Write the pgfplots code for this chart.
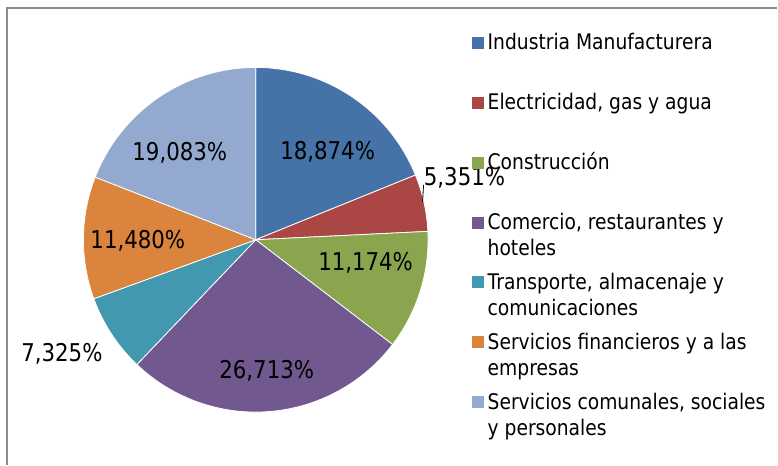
\documentclass[border=0pt]{standalone}
\usepackage{pgfplots}
\pgfplotsset{compat=1.18}
\usepackage{fontspec}
\setmainfont{DejaVu Sans}[FakeStretch=0.87]
\definecolor{cInd}{HTML}{4572A7}
\definecolor{cEle}{HTML}{AA4643}
\definecolor{cCon}{HTML}{89A54E}
\definecolor{cCom}{HTML}{71588F}
\definecolor{cTra}{HTML}{4198AF}
\definecolor{cFin}{HTML}{DB843D}
\definecolor{cSoc}{HTML}{93A9CF}
\definecolor{frame}{HTML}{8C8C8C}
% shares (%), clockwise from 12 o'clock
\def\vA{18.874}
\def\vB{5.351}
\def\vC{11.174}
\def\vD{26.713}
\def\vE{7.325}
\def\vF{11.480}
\def\vG{19.083}
\pgfmathsetmacro\cA{0}
\pgfmathsetmacro\cB{\cA+\vA}
\pgfmathsetmacro\cC{\cB+\vB}
\pgfmathsetmacro\cD{\cC+\vC}
\pgfmathsetmacro\cE{\cD+\vD}
\pgfmathsetmacro\cF{\cE+\vE}
\pgfmathsetmacro\cG{\cF+\vF}
\pgfmathsetmacro\cH{\cG+\vG}
\def\cx{256}
\def\cy{225}
\def\rr{172.5}
\newcommand{\lab}[2]{\parbox[t]{282pt}{\raggedright\fontsize{21.5}{26.5}\selectfont\strut #1\\\strut #2}}
\begin{document}
\begin{tikzpicture}
\begin{axis}[
  hide axis, scale only axis,
  width=778pt, height=465pt,
  xmin=0, xmax=778, ymin=0, ymax=465,
  clip=false,
  legend image code/.code={\fill[#1,draw=none] (0pt,8.95pt) rectangle (12pt,20.95pt);},
  legend cell align=left,
  legend style={at={(axis cs:472,434)}, anchor=north west, draw=none, fill=none,
    inner sep=0pt, row sep=7pt, column sep=4pt,
    nodes={inner sep=0pt, text depth=}},
  every axis plot/.append style={draw=white, line width=0.8pt, samples=90, variable=\t},
]
\path (axis cs:0,0) rectangle (axis cs:778,465);
\addplot[fill=cInd, domain={\cA*3.6}:{\cB*3.6}] ({\cx+\rr*sin(\t)},{\cy+\rr*cos(\t)}) -- (axis cs:\cx,\cy) -- cycle;
\addlegendentry{\lab{Industria Manufacturera}{}}
\addplot[fill=cEle, domain={\cB*3.6}:{\cC*3.6}] ({\cx+\rr*sin(\t)},{\cy+\rr*cos(\t)}) -- (axis cs:\cx,\cy) -- cycle;
\addlegendentry{\lab{Electricidad, gas y agua}{}}
\addplot[fill=cCon, domain={\cC*3.6}:{\cD*3.6}] ({\cx+\rr*sin(\t)},{\cy+\rr*cos(\t)}) -- (axis cs:\cx,\cy) -- cycle;
\addlegendentry{\lab{Construcción}{}}
\addplot[fill=cCom, domain={\cD*3.6}:{\cE*3.6}] ({\cx+\rr*sin(\t)},{\cy+\rr*cos(\t)}) -- (axis cs:\cx,\cy) -- cycle;
\addlegendentry{\lab{Comercio, restaurantes y}{hoteles}}
\addplot[fill=cTra, domain={\cE*3.6}:{\cF*3.6}] ({\cx+\rr*sin(\t)},{\cy+\rr*cos(\t)}) -- (axis cs:\cx,\cy) -- cycle;
\addlegendentry{\lab{Transporte, almacenaje y}{comunicaciones}}
\addplot[fill=cFin, domain={\cF*3.6}:{\cG*3.6}] ({\cx+\rr*sin(\t)},{\cy+\rr*cos(\t)}) -- (axis cs:\cx,\cy) -- cycle;
\addlegendentry{\lab{Servicios financieros y a las}{empresas}}
\addplot[fill=cSoc, domain={\cG*3.6}:{\cH*3.6}] ({\cx+\rr*sin(\t)},{\cy+\rr*cos(\t)}) -- (axis cs:\cx,\cy) -- cycle;
\addlegendentry{\lab{Servicios comunales, sociales}{y personales}}
% frame
\draw[frame, line width=1.6pt] (axis cs:7,0) -- (axis cs:7,457) -- (axis cs:778,457);
% data labels
\begin{scope}[every node/.style={font=\fontsize{24.5}{28}\selectfont, inner sep=0pt}]
\node at (axis cs:328,313) {18,874\%};
\node at (axis cs:465,287) {5,351\%};
\node at (axis cs:366,202) {11,174\%};
\node at (axis cs:267,94) {26,713\%};
\node at (axis cs:62,111) {7,325\%};
\node at (axis cs:138,224) {11,480\%};
\node at (axis cs:180,312) {19,083\%};
\end{scope}
\draw[black, line width=0.8pt] (axis cs:423,263) -- (axis cs:424,280);
\end{axis}
\end{tikzpicture}
\end{document}
